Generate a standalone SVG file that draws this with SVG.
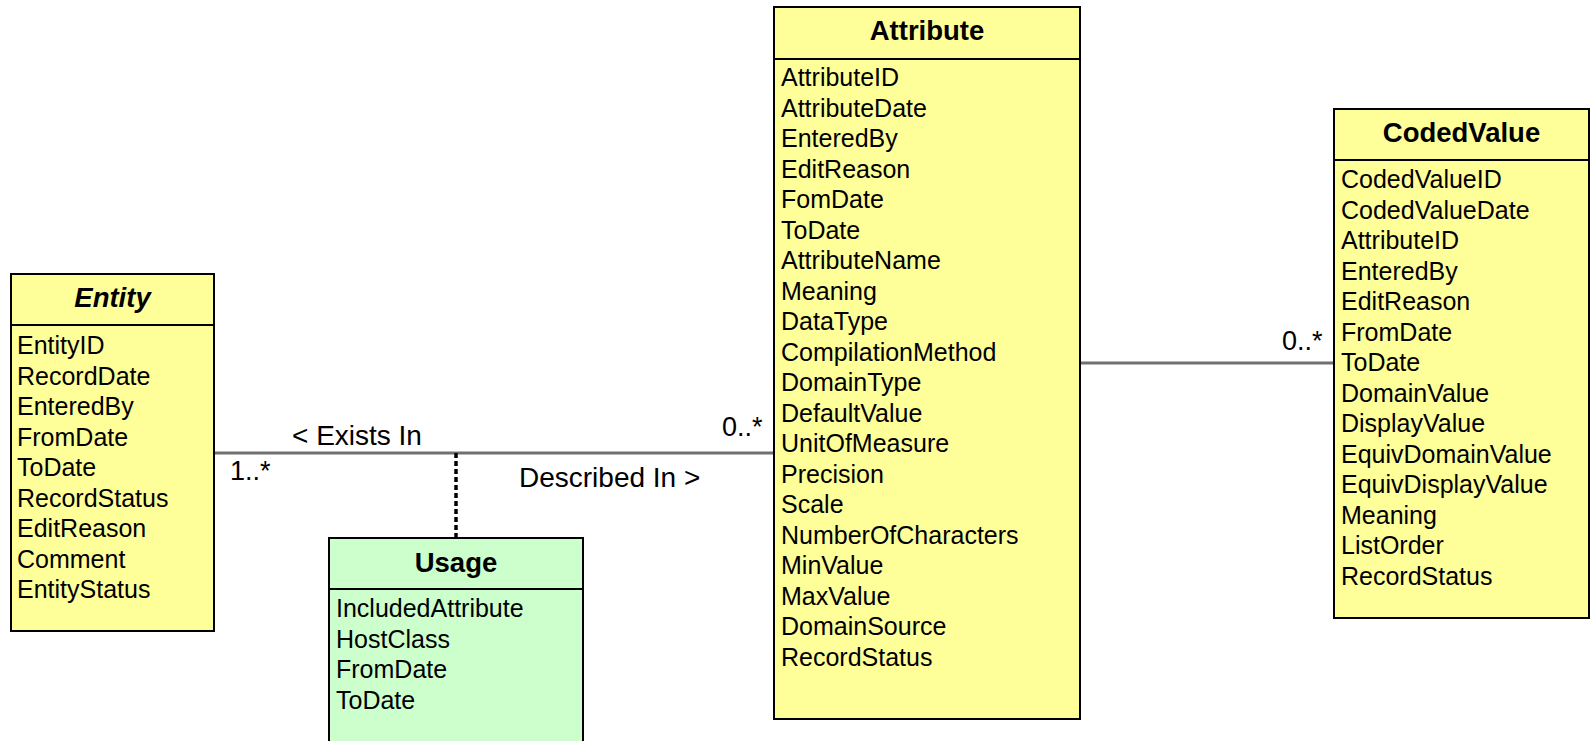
<svg xmlns="http://www.w3.org/2000/svg" width="1592" height="741" viewBox="0 0 1592 741">
<style>
text { font-family: "Liberation Sans", Arial, sans-serif; fill: #000; }
.box { stroke: #000; stroke-width: 2; }
.yellow { fill: #FFFF99; }
.green { fill: #CCFFCC; }
.div { stroke: #000; stroke-width: 2; }
.title { font-size: 27.5px; font-weight: bold; text-anchor: middle; }
.attr { font-size: 25px; }
.lbl { font-size: 28px; }
.mult { font-size: 27px; }
.assoc { stroke: #707070; stroke-width: 3; fill: none; }
.dash { stroke: #000; stroke-width: 3.5; stroke-dasharray: 5 3; fill: none; }
</style>
<rect width="1592" height="741" fill="#fff"/>
<g id="connectors">
  <line class="assoc" x1="214" y1="453" x2="774" y2="453"/>
  <line class="assoc" x1="1080" y1="363" x2="1334" y2="363"/>
  <line class="dash" x1="456" y1="453" x2="456" y2="538"/>
  <text class="lbl" x="292" y="445">&lt; Exists In</text>
  <text class="lbl" x="519" y="487">Described In &gt;</text>
  <text class="mult" x="230" y="480">1..*</text>
  <text class="mult" x="722" y="436">0..*</text>
  <text class="mult" x="1282" y="350">0..*</text>
</g>
<g id="entity">
  <rect class="box yellow" x="11" y="274" width="203" height="357"/>
  <line class="div" x1="11" y1="325" x2="214" y2="325"/>
  <text class="title" x="112.5" y="307" font-style="italic">Entity</text>
  <g class="attr">
    <text x="17" y="354">EntityID</text>
    <text x="17" y="384.5">RecordDate</text>
    <text x="17" y="415">EnteredBy</text>
    <text x="17" y="445.5">FromDate</text>
    <text x="17" y="476">ToDate</text>
    <text x="17" y="506.5">RecordStatus</text>
    <text x="17" y="537">EditReason</text>
    <text x="17" y="567.5">Comment</text>
    <text x="17" y="598">EntityStatus</text>
  </g>
</g>
<g id="usage">
  <rect class="box green" x="329" y="538" width="254" height="215"/>
  <line class="div" x1="329" y1="589" x2="583" y2="589"/>
  <text class="title" x="456" y="572">Usage</text>
  <g class="attr">
    <text x="336" y="617">IncludedAttribute</text>
    <text x="336" y="647.5">HostClass</text>
    <text x="336" y="678">FromDate</text>
    <text x="336" y="708.5">ToDate</text>
  </g>
</g>
<g id="attribute">
  <rect class="box yellow" x="774" y="7" width="306" height="712"/>
  <line class="div" x1="774" y1="59" x2="1080" y2="59"/>
  <text class="title" x="927" y="40">Attribute</text>
  <g class="attr">
    <text x="781" y="86">AttributeID</text>
    <text x="781" y="116.5">AttributeDate</text>
    <text x="781" y="147">EnteredBy</text>
    <text x="781" y="177.5">EditReason</text>
    <text x="781" y="208">FomDate</text>
    <text x="781" y="238.5">ToDate</text>
    <text x="781" y="269">AttributeName</text>
    <text x="781" y="299.5">Meaning</text>
    <text x="781" y="330">DataType</text>
    <text x="781" y="360.5">CompilationMethod</text>
    <text x="781" y="391">DomainType</text>
    <text x="781" y="421.5">DefaultValue</text>
    <text x="781" y="452">UnitOfMeasure</text>
    <text x="781" y="482.5">Precision</text>
    <text x="781" y="513">Scale</text>
    <text x="781" y="543.5">NumberOfCharacters</text>
    <text x="781" y="574">MinValue</text>
    <text x="781" y="604.5">MaxValue</text>
    <text x="781" y="635">DomainSource</text>
    <text x="781" y="665.5">RecordStatus</text>
  </g>
</g>
<g id="codedvalue">
  <rect class="box yellow" x="1334" y="109" width="255" height="509"/>
  <line class="div" x1="1334" y1="160" x2="1589" y2="160"/>
  <text class="title" x="1461.5" y="142">CodedValue</text>
  <g class="attr">
    <text x="1341" y="188">CodedValueID</text>
    <text x="1341" y="218.5">CodedValueDate</text>
    <text x="1341" y="249">AttributeID</text>
    <text x="1341" y="279.5">EnteredBy</text>
    <text x="1341" y="310">EditReason</text>
    <text x="1341" y="340.5">FromDate</text>
    <text x="1341" y="371">ToDate</text>
    <text x="1341" y="401.5">DomainValue</text>
    <text x="1341" y="432">DisplayValue</text>
    <text x="1341" y="462.5">EquivDomainValue</text>
    <text x="1341" y="493">EquivDisplayValue</text>
    <text x="1341" y="523.5">Meaning</text>
    <text x="1341" y="554">ListOrder</text>
    <text x="1341" y="584.5">RecordStatus</text>
  </g>
</g>
</svg>
